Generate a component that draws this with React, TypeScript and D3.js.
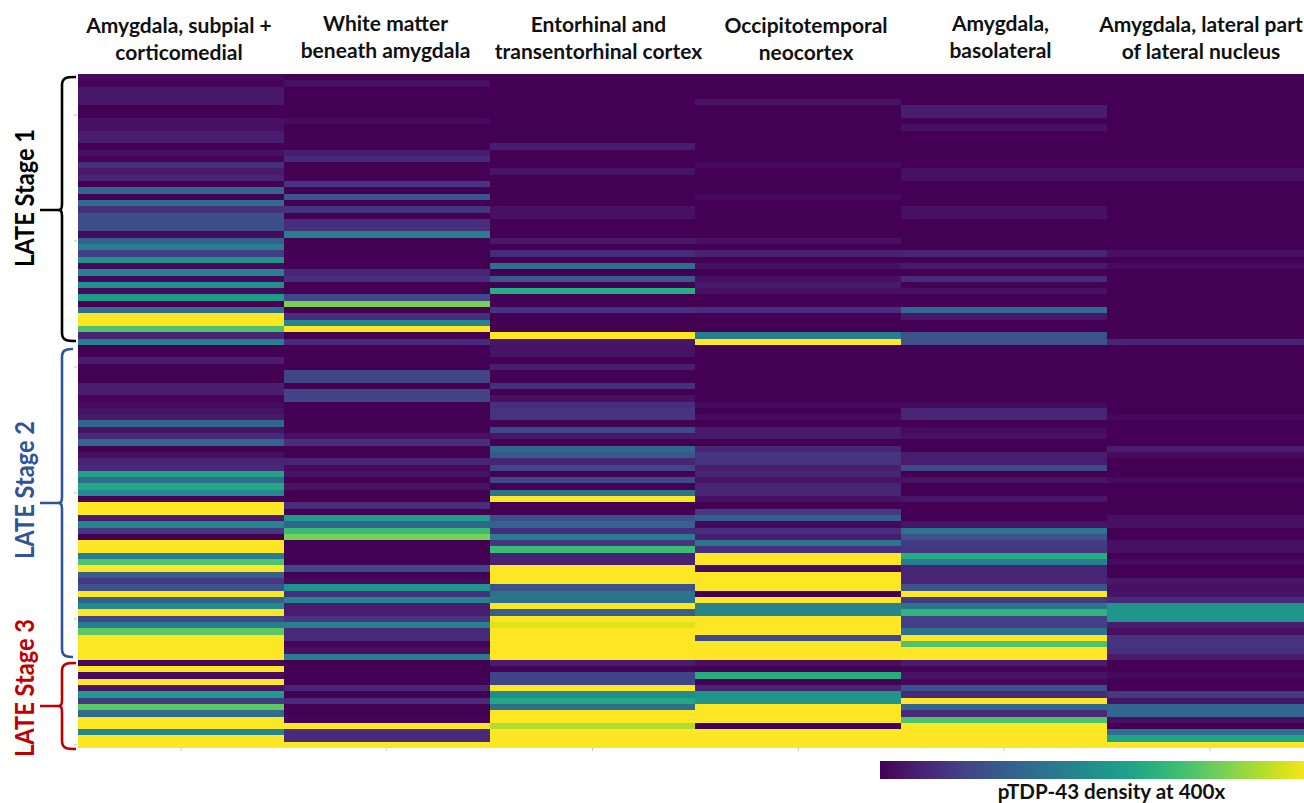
import React from "react";
import * as d3 from "d3";

const regionTitles: string[][] = [
  ["Amygdala, subpial +", "corticomedial"],
  ["White matter", "beneath amygdala"],
  ["Entorhinal and", "transentorhinal cortex"],
  ["Occipitotemporal", "neocortex"],
  ["Amygdala,", "basolateral"],
  ["Amygdala, lateral part", "of lateral nucleus"],
];
const titleCenters = [179, 385.5, 598.5, 806, 1000.5, 1201];
const titleBaselines = [33, 31, 32, 33, 31, 32];

const subpial = [
  .03,.01,.06,.06,.06,0,0,.04,.04,.08,
  .08,0,.04,.01,.14,.07,.1,0,.33,0,
  .35,.14,.24,.24,.24,.03,.3,.42,.18,.5,
  .02,.45,.02,.5,.02,.55,0,.35,1,1,
  .72,.1,.42,0,0,.08,0,0,0,.08,
  .08,.01,.03,.05,.07,.33,.05,.11,.33,0,
  .04,.1,.11,.58,.35,.6,.47,.01,1,1,
  .07,.45,.16,0,1,1,.42,.72,1,.3,
  .16,.25,1,.3,.48,1,.22,.42,.75,1,
  1,1,1,.02,1,.03,1,.05,.55,.17,
  .75,.35,1,1,.45,1,1,
];
const whiteMatter = [
  0,.04,0,0,0,0,0,.03,0,0,
  0,0,.08,.11,0,0,0,.15,0,.26,
  0,.15,0,.13,.13,.42,0,0,0,0,
  0,.1,.14,0,0,.22,.8,0,.13,.45,
  1,0,.12,0,0,0,0,.2,.2,0,
  .2,.2,0,0,0,0,0,.04,.14,0,
  0,.1,.03,.05,0,.05,0,0,.13,0,
  .55,.33,.68,.8,0,0,0,0,.22,0,
  .03,.52,.14,.45,.08,.08,.15,.43,.12,.12,
  .01,.04,.42,0,0,0,0,.1,0,.12,
  0,0,.01,1,.12,.12,1,
];
const entorhinal = [
  0,0,0,0,0,0,0,0,0,0,
  0,.08,0,0,0,.05,0,0,0,0,
  0,.04,.04,0,0,0,.06,0,.12,0,
  .36,0,.28,0,.62,0,0,.15,0,0,
  0,1,.06,.05,.05,0,.08,0,0,.14,
  0,.04,.14,.15,.15,0,.22,.06,0,.33,
  .28,.1,.2,0,.22,0,.38,1,0,0,
  .24,.32,.13,.42,.15,.68,.09,.09,1,1,
  1,.25,.38,.38,1,.3,1,.95,1,1,
  1,1,1,.08,.01,.2,.2,1,.48,.6,
  .36,1,1,.88,1,1,1,
];
const occipitotemporal = [
  0,0,0,0,.05,0,0,0,0,0,
  0,0,0,0,.03,0,0,0,0,.03,
  0,0,0,0,0,0,.04,0,.09,0,
  .04,0,.04,.07,.04,0,0,.13,0,0,
  0,.42,1,0,0,0,0,0,0,0,
  0,0,.03,0,.03,0,.07,.07,0,.1,
  .15,.15,.08,.1,.05,.1,.1,.04,0,.17,
  .3,.02,.13,.08,.38,.13,1,1,.03,1,
  1,1,0,1,.45,.45,1,1,1,.22,
  1,1,1,.04,0,.62,0,.1,.52,.52,
  1,1,1,0,1,1,1,
];
const basolateral = [
  0,0,0,0,0,.08,.08,0,.04,0,
  0,0,0,0,0,.04,.04,0,0,0,
  0,.04,.04,0,0,0,0,0,.1,0,
  .07,0,.12,0,.04,0,0,.34,.06,0,
  0,.25,.25,0,0,0,0,0,0,0,
  0,0,.03,.1,.1,0,.03,.04,0,0,
  .08,.08,.22,0,.05,0,0,.06,0,0,
  0,.05,.38,.25,.17,.16,.62,.42,.1,.1,
  .1,.26,1,.16,.38,.65,.18,.18,.38,1,
  .72,1,1,.08,.01,.05,.02,.25,.12,1,
  .33,.12,.72,1,1,1,1,
];
const lateralNucleus = [
  0,0,0,0,0,0,0,0,0,0,
  0,0,0,0,0,.04,.04,0,0,0,
  0,0,0,0,0,0,0,0,.04,0,
  .03,0,0,0,0,0,0,0,0,0,
  0,0,.1,0,0,0,0,0,0,0,
  0,0,0,0,.02,0,0,0,0,.08,
  .03,0,0,0,.03,0,0,0,0,0,
  .04,.04,0,0,.04,.04,0,.03,0,0,
  .06,.04,.05,.11,.52,.52,.52,.08,.04,.15,
  .15,.14,.07,0,0,.02,0,0,.17,.05,
  .33,.33,.04,0,.36,.58,1,
];
const columns = [subpial, whiteMatter, entorhinal, occipitotemporal, basolateral, lateralNucleus];

const stageNames = ["LATE Stage 1", "LATE Stage 2", "LATE Stage 3"];
const stageColors = ["#000000", "#2f5597", "#c00000"];
const stageTop = [77, 349, 663];
const stageMid = [210, 503, 706];
const stageBottom = [341, 657, 749];
const stageEndX = [76, 73, 76];
const stageLabelY = [198, 490, 688];
const colorbarLabel = "pTDP-43 density at 400x";

const FONT = "Lato, 'Open Sans', sans-serif";
const rowIndex = d3.range(subpial.length);
const colIndex = d3.range(columns.length);
const x = d3.scaleBand<number>().domain(colIndex).range([78, 78 + 6 * 205.8]);
const y = d3.scaleBand<number>().domain(rowIndex).range([74, 748]);
const color = d3.scaleSequential(d3.interpolateViridis).domain([0, 1]);
const barScale = d3.scaleLinear().domain([0, 1]).range([880, 1312]);
const rowTicks = rowIndex.filter((k) => k % 20 === 6);

function bracket(top: number, mid: number, bottom: number, endX: number) {
  const sx = 62;
  return [
    `M${endX},${top} C${sx + 6},${top} ${sx},${top} ${sx},${top + 8}`,
    `L${sx},${mid - 6} C${sx},${mid - 1} ${sx - 1},${mid} ${sx - 4},${mid} L40,${mid}`,
    `M${sx - 4},${mid} C${sx - 1},${mid} ${sx},${mid + 1} ${sx},${mid + 6}`,
    `L${sx},${bottom - 8} C${sx},${bottom} ${sx + 6},${bottom} ${endX},${bottom}`,
  ].join(" ");
}

export default function App() {
  const stops = d3.range(0, 1.0001, 0.05);
  return (
    <svg
      width={1304}
      height={803}
      style={{ position: "absolute", left: 0, top: 0, display: "block", background: "#fff" }}
      fontFamily={FONT}
    >
      <defs>
        <linearGradient id="viridisBar" x1="0" x2="1" y1="0" y2="0">
          {stops.map((s) => (
            <stop key={s} offset={s} stopColor={color(s)} />
          ))}
        </linearGradient>
      </defs>

      <g shapeRendering="crispEdges">
        {columns.map((vals, c) =>
          vals.map((v, r) => (
            <rect
              key={`${c}-${r}`}
              x={x(c)}
              y={y(r)}
              width={x.bandwidth()}
              height={y.bandwidth()}
              fill={color(v)}
            />
          ))
        )}
      </g>

      {rowTicks.map((k) => (
        <line key={k} x1={74} x2={77} y1={y(k)! + y.bandwidth() / 2} y2={y(k)! + y.bandwidth() / 2} stroke="#aaa" strokeWidth={0.8} />
      ))}
      {colIndex.map((c) => (
        <line key={c} x1={x(c)! + x.bandwidth() / 2} x2={x(c)! + x.bandwidth() / 2} y1={748} y2={751} stroke="#bbb" strokeWidth={0.8} />
      ))}

      {regionTitles.map((lines, c) =>
        lines.map((t, i) => (
          <text
            key={t}
            x={titleCenters[c]}
            y={titleBaselines[c] + i * 27}
            textAnchor="middle"
            fontSize={21}
            fontWeight={700}
            fill="#111"
          >
            {t}
          </text>
        ))
      )}

      {stageNames.map((s, i) => (
        <g key={s}>
          <path d={bracket(stageTop[i], stageMid[i], stageBottom[i], stageEndX[i])} fill="none" stroke={stageColors[i]} strokeWidth={2.6} />
          <text
            transform={`translate(34,${stageLabelY[i]}) rotate(-90)`}
            textAnchor="middle"
            fontSize={26.5}
            fontWeight={700}
            fill={stageColors[i]}
            textLength={138}
            lengthAdjust="spacingAndGlyphs"
          >
            {s}
          </text>
        </g>
      ))}

      <rect x={880} y={761} width={barScale(1) - barScale(0)} height={18} fill="url(#viridisBar)" />
      <text x={1111.5} y={799} textAnchor="middle" fontSize={20.6} fontWeight={700} fill="#111">
        {colorbarLabel}
      </text>
    </svg>
  );
}
